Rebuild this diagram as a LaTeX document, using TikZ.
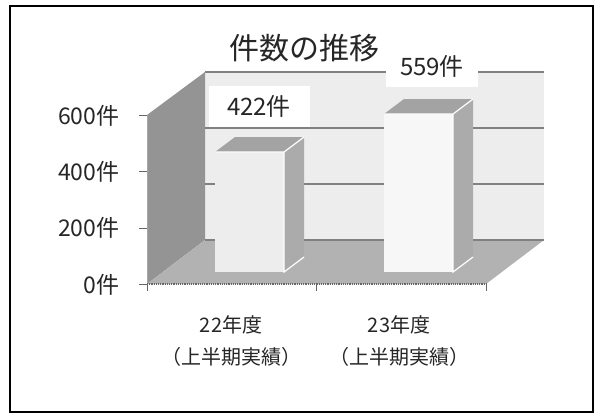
\documentclass[tikz,border=0pt]{standalone}
\usepackage{fontspec}
\setmainfont{Noto Sans CJK JP}
\usepackage{tikz}

\begin{document}
\begin{tikzpicture}[x=1pt, y=-1pt, every node/.style={text=black!85}]
		\useasboundingbox (0, 0) rectangle (596, 415);
		% 外框
		\draw[line width=2pt] (10, 6) rectangle (593, 412);

		% 背面, 侧面, 底面
		\fill[black!7] (205, 72) rectangle (544, 240);
		\fill[black!42] (147, 115) -- (205, 72) -- (205, 240) -- (147, 284) -- cycle;
		\fill[black!30] (147, 284) -- (205, 240) -- (544, 240) -- (486, 284) -- cycle;

		% 网格线
		\draw[black!50, line width=1.5pt] (205, 72) -- (544, 72);
		\draw[black!50, line width=1.5pt] (205, 128) -- (544, 128);
		\draw[black!50, line width=1.5pt] (205, 184) -- (544, 184);
		\draw[black!50, line width=1.5pt] (205, 240) -- (544, 240);

		% 坐标轴和刻度
		\draw[black!35, line width=1pt] (147, 115) -- (147, 284);
		\draw[black!60, line width=1.2pt, densely dotted] (147, 284) -- (486, 284);
		\draw[black!60, line width=1pt] (139, 115) -- (147, 115);
		\draw[black!60, line width=1pt] (139, 171) -- (147, 171);
		\draw[black!60, line width=1pt] (139, 228) -- (147, 228);
		\draw[black!60, line width=1pt] (139, 284) -- (147, 284);
		\draw[black!60, line width=1pt] (147, 284) -- (147, 291);
		\draw[black!60, line width=1pt] (316, 284) -- (316, 291);
		\draw[black!60, line width=1pt] (486, 284) -- (486, 291);

		% 柱子 22年度
		\fill[black!7] (215, 152) rectangle (284, 272);
		\fill[black!36] (215, 152) -- (284, 152) -- (304, 137) -- (235, 137) -- cycle;
		\fill[black!33] (284, 152) -- (304, 137) -- (304, 257) -- (284, 272) -- cycle;
		\draw[white, line width=1.2pt] (215, 152) -- (284, 152) -- (304, 137);
		\draw[white, line width=1.2pt] (284, 152) -- (284, 272) -- (304, 257);

		% 柱子 23年度
		\fill[black!3] (384, 114) rectangle (453, 272);
		\fill[black!36] (384, 114) -- (453, 114) -- (473, 99) -- (404, 99) -- cycle;
		\fill[black!33] (453, 114) -- (473, 99) -- (473, 257) -- (453, 272) -- cycle;
		\draw[white, line width=1.2pt] (384, 114) -- (453, 114) -- (473, 99);
		\draw[white, line width=1.2pt] (453, 114) -- (453, 272) -- (473, 257);

		% 文字
		\node[font=\fontsize{30}{36}\selectfont] (title) at (304, 48) {件数の推移};
		\node[fill=white, minimum width=101pt, minimum height=41pt, font=\fontsize{24}{28}\selectfont] (val22) at (259, 106) {422件};
		\node[fill=white, minimum width=92pt, minimum height=42pt, font=\fontsize{24}{28}\selectfont] (val23) at (432, 66) {559件};
		\node[anchor=east, font=\fontsize{23}{28}\selectfont] (y600) at (123, 116) {600件};
		\node[anchor=east, font=\fontsize{23}{28}\selectfont] (y400) at (123, 172) {400件};
		\node[anchor=east, font=\fontsize{23}{28}\selectfont] (y200) at (123, 228) {200件};
		\node[anchor=east, font=\fontsize{23}{28}\selectfont] (y0) at (123, 285) {0件};
		\node[align=center, font=\fontsize{20}{32}\selectfont] (cat22) at (231, 341) {22年度\\（上半期実績）};
		\node[align=center, font=\fontsize{20}{32}\selectfont] (cat23) at (399, 341) {23年度\\（上半期実績）};
	\end{tikzpicture}
\end{document}
